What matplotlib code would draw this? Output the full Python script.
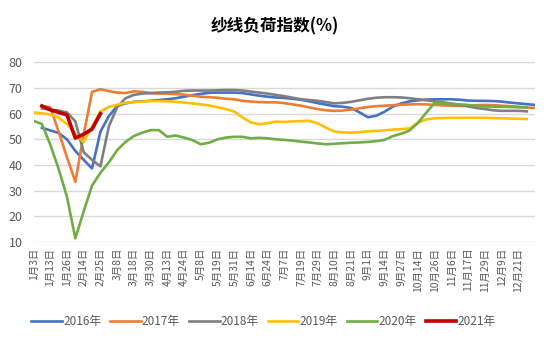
import numpy as np
import matplotlib
matplotlib.use('Agg')
import matplotlib.pyplot as plt

plt.rcParams['font.family'] = ['Noto Sans CJK SC', 'DejaVu Sans']

# x轴标签（每隔一个数据点显示一个）
tick_labels = ['1月3日', '1月13日', '1月26日', '2月14日', '2月25日', '3月8日', '3月18日',
               '3月30日', '4月13日', '4月24日', '5月8日', '5月19日', '5月31日', '6月14日',
               '6月24日', '7月7日', '7月19日', '7月29日', '8月10日', '8月21日', '9月1日',
               '9月14日', '9月27日', '10月14日', '10月26日', '11月6日', '11月17日',
               '11月29日', '12月9日', '12月21日']

nan = np.nan
y2016 = [nan, 54.5, 53.5, 52.5, 50.0, 45.5, 42.0, 38.7, 53.0, 59.0,
         63.0, 64.0, 64.6, 64.8, 65.0, 65.3, 65.6, 66.0, 66.6, 67.2,
         67.7, 68.1, 68.2, 68.2, 68.2, 68.0, 67.5, 67.0, 66.6, 66.3,
         66.1, 65.8, 65.4, 64.8, 64.1, 63.5, 62.9, 62.7, 62.2, 60.5,
         58.6, 59.2, 60.8, 62.8, 64.0, 64.8, 65.2, 65.5, 65.6, 65.6,
         65.6, 65.4, 65.1, 65.0, 65.0, 64.9, 64.7, 64.3, 64.0, 63.7, 63.4]
y2017 = [nan, 63.0, 62.5, 53.0, 43.0, 33.5, 52.0, 68.5, 69.5, 68.8,
         68.2, 68.0, 68.7, 68.5, 68.0, 67.8, 67.8, 67.6, 67.4, 67.0,
         66.6, 66.4, 66.2, 65.8, 65.6, 65.0, 64.7, 64.5, 64.4, 64.4,
         64.1, 63.6, 63.1, 62.4, 61.8, 61.3, 61.1, 61.2, 61.6, 62.1,
         62.6, 62.9, 63.1, 63.3, 63.5, 63.6, 63.7, 63.6, 63.4, 63.2,
         63.1, 63.0, 63.1, 63.3, 63.4, 63.3, 63.1, 62.9, 62.7, 62.4, 62.2]
y2018 = [nan, 62.0, 61.6, 61.2, 60.5, 57.0, 45.0, 42.0, 39.5, 55.0,
         62.5, 66.0, 67.3, 67.8, 68.0, 68.2, 68.3, 68.5, 68.9, 69.0,
         69.0, 69.0, 69.1, 69.2, 69.2, 69.0, 68.6, 68.2, 67.8, 67.3,
         66.8, 66.2, 65.6, 65.3, 65.0, 64.5, 64.0, 64.2, 64.6, 65.2,
         65.8, 66.2, 66.4, 66.4, 66.3, 66.0, 65.6, 65.2, 64.8, 64.4,
         63.9, 63.4, 62.8, 62.2, 61.8, 61.3, 61.1, 61.1, 61.1, 60.9]
y2019 = [60.5, 60.1, 59.7, 58.5, 56.0, 52.0, 49.0, 55.0, 60.8, 62.6,
         63.5, 64.2, 64.5, 64.7, 64.9, 64.9, 64.8, 64.6, 64.3, 64.0,
         63.6, 63.2, 62.5, 61.8, 60.8, 58.5, 56.6, 55.9, 56.3, 56.9,
         56.8, 57.0, 57.1, 57.2, 56.2, 54.5, 53.0, 52.7, 52.6, 52.8,
         53.1, 53.3, 53.5, 53.8, 54.0, 54.3, 56.5, 57.8, 58.2, 58.3,
         58.4, 58.4, 58.4, 58.4, 58.4, 58.3, 58.2, 58.1, 58.0, 57.9]
y2020 = [57.2, 56.0, 48.0, 38.5, 27.6, 11.5, 22.0, 32.0, 37.0, 41.0,
         45.8, 49.0, 51.3, 52.6, 53.6, 53.6, 51.0, 51.5, 50.7, 49.7,
         48.1, 48.7, 50.0, 50.7, 51.0, 51.0, 50.4, 50.6, 50.4, 50.0,
         49.8, 49.5, 49.1, 48.8, 48.4, 48.1, 48.3, 48.5, 48.7, 48.8,
         49.0, 49.3, 49.8, 51.3, 52.2, 53.5, 56.5, 60.5, 64.3, 64.0,
         63.8, 63.6, 63.4, 63.0, 62.8, 62.7, 62.7, 62.6, 62.5, 62.4]
y2021 = [nan, 63.0, 61.5, 60.5, 59.5, 50.5, 52.0, 54.0, 60.0]

series = [y2016, y2017, y2018, y2019, y2020, y2021]
names = ['2016年', '2017年', '2018年', '2019年', '2020年', '2021年']
colors = ['#4472C4', '#ED7D31', '#7F7F7F', '#FFC000', '#70AD47', '#C00000']
widths = [1.9, 1.9, 1.9, 1.9, 1.9, 2.6]

fig = plt.figure(figsize=(5.5, 3.44), dpi=100)
ax = fig.add_axes([0.061, 0.296, 0.912, 0.523])

for ys, name, c, w in zip(series, names, colors, widths):
    ax.plot(np.arange(len(ys)), ys, color=c, lw=w, label=name,
            solid_joinstyle='round', zorder=3)

ax.set_xlim(0, 60)
ax.set_ylim(10, 80)
ax.set_yticks(range(10, 81, 10))
ax.set_xticks(np.arange(0, 2 * len(tick_labels), 2))
ax.set_xticklabels(tick_labels, rotation=90, fontsize=7.5, color='#595959')
ax.tick_params(axis='y', labelsize=9, colors='#595959', length=0, pad=8)
ax.tick_params(axis='x', length=0, pad=4)

# 网格线
ax.grid(axis='y', color='#D9D9D9', lw=1.0, zorder=0)
for s in ax.spines.values():
    s.set_visible(False)

fig.text(0.5, 0.922, '纱线负荷指数(%)', ha='center', va='center',
         fontsize=12, fontweight='bold', color='#000000')

leg = fig.legend(loc='center', bbox_to_anchor=(0.479, 0.064), ncol=6, frameon=False,
                 fontsize=8.5, handlelength=2.6, handletextpad=0.1, columnspacing=0.75)
for t in leg.get_texts():
    t.set_color('#595959')

fig.savefig('out.png', dpi=100)
